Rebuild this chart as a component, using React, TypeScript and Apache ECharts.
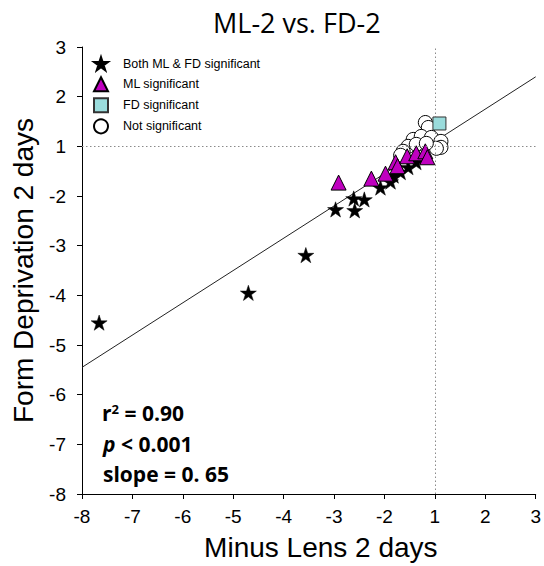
import React, { useEffect, useRef } from "react";
import * as echarts from "echarts";

// Fold-change values (axis skips between -2 and 1)
const xTickLabels = ["-8", "-7", "-6", "-5", "-4", "-3", "-2", "1", "2", "3"];
const yTickLabels = ["-8", "-7", "-6", "-5", "-4", "-3", "-2", "1", "2", "3"];

const bothX = [-7.66, -4.7, -3.56, -2.97, -2.61, -2.59, -2.4, -2.08, -1.88, -1.82, -1.68, -1.53, -1.37];
const bothY = [-4.55, -3.95, -3.19, -2.27, -2.05, -2.29, -2.07, -1.83, -1.71, -1.59, -1.52, -1.42, -1.32];

const mlX = [-2.91, -2.26, -1.98, -1.78, -1.74, -1.55, -1.37, -1.19, -1.15];
const mlY = [-1.73, -1.65, -1.55, -1.32, -1.4, -1.2, -1.14, -1.1, -1.22];

const fdX = [1.09];
const fdY = [1.46];

const nsX = [-1.19, -1.13, -1.43, -1.27, -1.07, 1.12, 1.12, 1.03, -1.53, -1.63, -1.68, -1.37, -1.17];
const nsY = [1.48, 1.38, 1.14, 1.2, 1.18, 1.1, -1.02, -1.04, 1.0, -1.1, -1.18, 1.04, 1.06];

const fitX = [-8, 3];
const fitY = [-5.45, 2.4];

const seriesNames = ["Both ML & FD significant", "ML significant", "FD significant", "Not significant"];

const toAxis = (r: number) => (r >= 1 ? r - 1 : r + 1);
const pairs = (xs: number[], ys: number[]) => xs.map((x, i) => [toAxis(x), toAxis(ys[i])]);
const fmtX = (v: number) => xTickLabels[7 + Math.round(v)];
const fmtY = (v: number) => yTickLabels[7 + Math.round(v)];

const STAR =
  "path://M0,-10L2.245,-3.09L9.51,-3.09L3.633,1.18L5.88,8.09L0,3.82L-5.88,8.09L-3.633,1.18L-9.51,-3.09L-2.245,-3.09Z";

const ARIAL = "Liberation Sans, Arial, sans-serif";

export default function App() {
  const ref = useRef<HTMLDivElement>(null);
  useEffect(() => {
    if (!ref.current) return;
    const chart = echarts.init(ref.current, undefined, { renderer: "svg" });
    const axisCommon = {
      type: "value" as const,
      min: -7,
      max: 2,
      interval: 1,
      splitLine: { show: false },
      axisLine: { show: true, onZero: false, lineStyle: { color: "#000", width: 1 } },
      axisTick: { show: true, inside: false, length: 5, lineStyle: { color: "#000", width: 1 } },
    };
    chart.setOption({
      animation: false,
      backgroundColor: "#fff",
      title: {
        text: "ML-2 vs. FD-2",
        left: 213,
        top: 9,
        padding: 0,
        textStyle: { fontFamily: "Open Sans, sans-serif", fontWeight: "normal", fontSize: 27, color: "#000" },
      },
      grid: { left: 82, right: 6, top: 47, bottom: 70, containLabel: false },
      legend: {
        data: seriesNames,
        orient: "vertical",
        left: 93,
        top: 56,
        padding: 0,
        itemWidth: 14,
        itemHeight: 14,
        itemGap: 5,
        selectedMode: false,
        textStyle: { fontFamily: ARIAL, fontSize: 12.5, color: "#000", padding: [0, 0, 0, 10] },
      },
      xAxis: {
        ...axisCommon,
        name: "Minus Lens 2 days",
        nameLocation: "middle",
        nameGap: 39,
        nameTextStyle: { fontFamily: ARIAL, fontSize: 28, color: "#000", padding: [0, 0, 0, 24] },
        axisLabel: { formatter: fmtX, fontFamily: ARIAL, fontSize: 19, color: "#000", margin: 13 },
      },
      yAxis: {
        ...axisCommon,
        name: "Form Deprivation 2 days",
        nameLocation: "middle",
        nameGap: 45,
        nameTextStyle: { fontFamily: ARIAL, fontSize: 28, color: "#000" },
        axisLabel: { formatter: fmtY, fontFamily: ARIAL, fontSize: 19, color: "#000", margin: 16 },
      },
      series: [
        {
          type: "line",
          data: pairs(fitX, fitY),
          symbol: "none",
          lineStyle: { color: "#222", width: 1 },
          z: 1,
          silent: true,
          markLine: {
            silent: true,
            symbol: "none",
            label: { show: false },
            lineStyle: { type: [1.5, 2.5], color: "#8a8a8a", width: 1 },
            data: [{ xAxis: 0 }, { yAxis: 0 }],
          },
        },
        {
          name: seriesNames[3],
          type: "scatter",
          data: pairs(nsX, nsY),
          symbol: "circle",
          symbolSize: 14,
          itemStyle: { color: "#fff", borderColor: "#000", borderWidth: 1, opacity: 1 },
          z: 2,
        },
        {
          name: seriesNames[0],
          type: "scatter",
          data: pairs(bothX, bothY),
          symbol: STAR,
          symbolKeepAspect: true,
          symbolSize: 16,
          itemStyle: { color: "#000", borderColor: "#000", borderWidth: 0.5, opacity: 1 },
          z: 3,
        },
        {
          name: seriesNames[1],
          type: "scatter",
          data: pairs(mlX, mlY),
          symbol: "triangle",
          symbolSize: 15,
          itemStyle: { color: "#BF00BF", borderColor: "#000", borderWidth: 1, opacity: 1 },
          z: 4,
        },
        {
          name: seriesNames[2],
          type: "scatter",
          data: pairs(fdX, fdY),
          symbol: "rect",
          symbolSize: 13,
          itemStyle: { color: "#9ADCDC", borderColor: "#333", borderWidth: 1, opacity: 1 },
          z: 5,
        },
      ],
      graphic: [
        {
          type: "text",
          left: 102,
          top: 402,
          style: {
            text: "r{sup|2} = 0.90",
            fontFamily: "Open Sans, sans-serif",
            fontWeight: "bold",
            fontSize: 21,
            fill: "#000",
            rich: {
              sup: { fontSize: 13, fontWeight: "bold", fontFamily: "Open Sans, sans-serif", verticalAlign: "top", padding: [0, 0, 8, 0] },
            },
          },
        },
        {
          type: "text",
          left: 103,
          top: 433,
          style: {
            text: "{i|p} < 0.001",
            fontFamily: "Open Sans, sans-serif",
            fontWeight: "bold",
            fontSize: 21,
            fill: "#000",
            rich: {
              i: { fontStyle: "italic", fontWeight: "bold", fontSize: 21, fontFamily: "Open Sans, sans-serif" },
            },
          },
        },
        {
          type: "text",
          left: 103,
          top: 463,
          style: {
            text: "slope = 0. 65",
            fontFamily: "Open Sans, sans-serif",
            fontWeight: "bold",
            fontSize: 21,
            fill: "#000",
          },
        },
      ],
    });
    return () => chart.dispose();
  }, []);
  return <div ref={ref} style={{ position: "fixed", left: 0, top: 0, width: 544, height: 566 }} />;
}
